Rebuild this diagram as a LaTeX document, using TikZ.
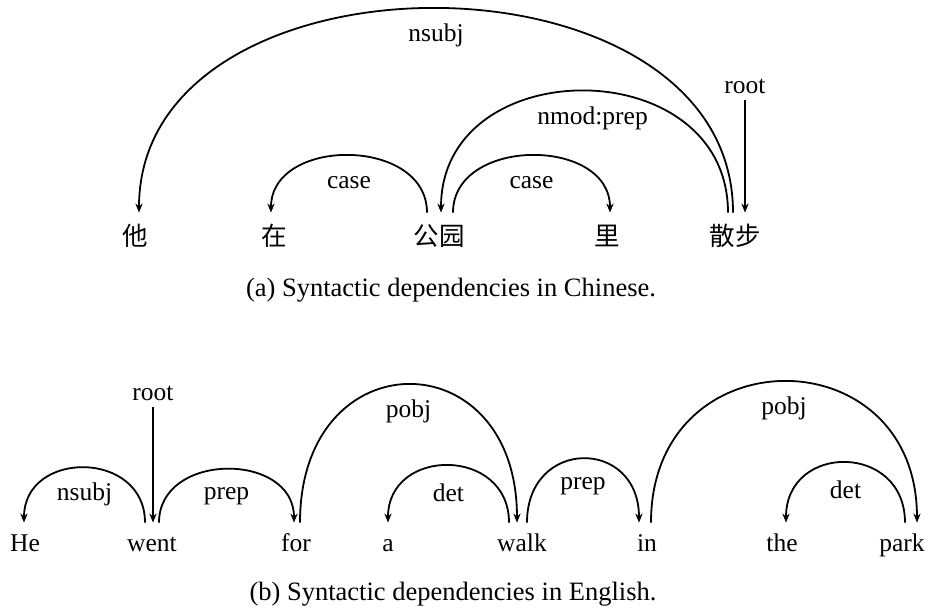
\documentclass[tikz,border=0pt]{standalone}
\usepackage{fontspec}
\setmainfont{Liberation Serif}
\newfontfamily\cjk{Noto Sans CJK SC}
\usetikzlibrary{arrows.meta}

\tikzset{
  every node/.style={font=\fontsize{12.75}{15}\selectfont},
  dep/.style={line width=0.9pt, -{Stealth[length=4.5pt,width=3.6pt]}},
  word/.style={anchor=base, inner xsep=0pt, inner ysep=5.5pt, text depth=0pt},
  enword/.style={word, text height=9pt},
  cnword/.style={word, text height=11pt, font=\fontsize{12.75}{15}\selectfont\cjk},
  lab/.style={midway, anchor=center, inner sep=0pt, yshift=-13.5pt},
  caption/.style={anchor=base, font=\fontsize{13.25}{16}\selectfont}
}

\begin{document}
\begin{tikzpicture}[x=0.5pt, y=-0.5pt]
  \useasboundingbox (0,0) rectangle (928,609);

  % (a) Chinese sentence
  \node[cnword] (ta) at (135,246) {他};
  \node[cnword] (zai) at (274,246) {在};
  \node[cnword] (gongyuan) at (439,246) {公园};
  \node[cnword] (li) at (607,246) {里};
  \node[cnword] (sanbu) at (735,246) {散步};
  \node (cnroot) at (745,86) {root};

  \draw[dep] (cnroot) -- ([xshift=5pt]sanbu.north);
  \draw[dep] ([xshift=-1pt]sanbu.north) .. controls +(0,-272) and +(0,-272) .. ([xshift=2pt]ta.north) node[lab] {nsubj};
  \draw[dep] ([xshift=-3.5pt]sanbu.north) .. controls +(0,-162) and +(0,-162) .. ([xshift=1pt]gongyuan.north) node[lab, xshift=4pt] {nmod:prep};
  \draw[dep] ([xshift=-6pt]gongyuan.north) .. controls +(0,-76) and +(0,-76) .. ([xshift=-1.5pt]zai.north) node[lab] {case};
  \draw[dep] ([xshift=7pt]gongyuan.north) .. controls +(0,-76) and +(0,-76) .. ([xshift=1.5pt]li.north) node[lab] {case};

  \node[caption] (capa) at (451,297) {(a) Syntactic dependencies in Chinese.};

  % (b) English sentence
  \node[enword] (he) at (25,552) {He};
  \node[enword] (went) at (152,552) {went};
  \node[enword] (for) at (296,552) {for};
  \node[enword] (a) at (388,552) {a};
  \node[enword] (walk) at (522,552) {walk};
  \node[enword] (in) at (647,552) {in};
  \node[enword] (the) at (782,552) {the};
  \node[enword] (park) at (902,552) {park};
  \node (enroot) at (153,393) {root};

  \draw[dep] (enroot) -- ([xshift=0.5pt]went.north);
  \draw[dep] ([xshift=-3.5pt]went.north) .. controls +(0,-73) and +(0,-73) .. ([xshift=-0.5pt]he.north) node[lab] {nsubj};
  \draw[dep] ([xshift=3.5pt]went.north) .. controls +(0,-71) and +(0,-71) .. ([xshift=-1pt]for.north) node[lab] {prep};
  \draw[dep] ([xshift=2pt]for.north) .. controls +(0,-184) and +(0,-184) .. ([xshift=-2.5pt]walk.north) node[lab] {pobj};
  \draw[dep] ([xshift=-6.5pt]walk.north) .. controls +(0,-76) and +(0,-76) .. (a.north) node[lab] {det};
  \draw[dep] ([xshift=2.5pt]walk.north) .. controls +(0,-85) and +(0,-85) .. ([xshift=-4pt]in.north) node[lab] {prep};
  \draw[dep] ([xshift=2pt]in.north) .. controls +(0,-188) and +(0,-188) .. ([xshift=7.5pt]park.north) node[lab] {pobj};
  \draw[dep] ([xshift=1.5pt]park.north) .. controls +(0,-80) and +(0,-80) .. ([xshift=2pt]the.north) node[lab] {det};

  \node[caption] (capb) at (453,601) {(b) Syntactic dependencies in English.};
\end{tikzpicture}
\end{document}
